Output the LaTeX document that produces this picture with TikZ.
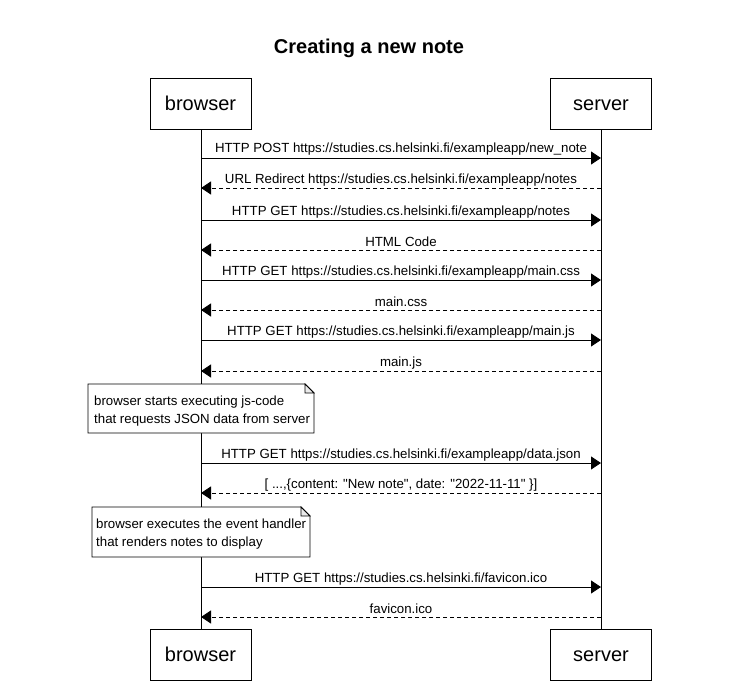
\documentclass[tikz,border=0pt]{standalone}
\usepackage{fontspec}
\setmainfont{Liberation Sans}
\usetikzlibrary{arrows.meta}
\begin{document}
\begin{tikzpicture}[x=1pt,y=-1pt,
  part/.style={draw=black,line width=1pt,fill=white,minimum width=101pt,minimum height=51pt,inner sep=0pt,text height=17.5pt,text depth=4.5pt,font=\fontsize{20}{24}\selectfont},
  life/.style={draw=black,line width=0.8pt},
  msg/.style={draw=black,line width=0.8pt,-{Triangle[length=10pt,width=13pt]}},
  ret/.style={msg,dash pattern=on 4pt off 3pt},
  lbl/.style={inner sep=0pt,font=\fontsize{13.25}{15}\selectfont},
  notebox/.style={draw=black,line width=0.8pt,fill=white},
  notetext/.style={inner sep=0pt,align=left,anchor=west,font=\fontsize{13.25}{18}\selectfont}]
\useasboundingbox (0,0) rectangle (752,693);
\node[font=\bfseries\fontsize{20}{24}\selectfont,inner sep=0pt] (title) at (369,48) {Creating a new note};
% lifelines
\coordinate (bt) at (201,129); \coordinate (bb) at (201,630);
\coordinate (st) at (601,129); \coordinate (sb) at (601,630);
\draw[life] (bt) -- (bb);
\draw[life] (st) -- (sb);
\node[part] (b1) at (200.5,103.5) {browser};
\node[part] (s1) at (601,103.5) {server};
\node[part] (b2) at (200.5,655) {browser};
\node[part] (s2) at (601,655) {server};
% messages
\foreach \i/\y in {1/158,2/188,3/220,4/250,5/280,6/310,7/340,8/371,9/463,10/493,11/587,12/617}{
  \coordinate (bm\i) at (201,\y);
  \coordinate (sm\i) at (601,\y);
}
\draw[msg] (bm1) -- (sm1);
\node[lbl] (l1) at (401,149) {HTTP POST https://studies.cs.helsinki.fi/exampleapp/new\_note};
\draw[ret] (sm2) -- (bm2);
\node[lbl] (l2) at (401,180) {URL Redirect https://studies.cs.helsinki.fi/exampleapp/notes};
\draw[msg] (bm3) -- (sm3);
\node[lbl] (l3) at (401,212) {HTTP GET https://studies.cs.helsinki.fi/exampleapp/notes};
\draw[ret] (sm4) -- (bm4);
\node[lbl] (l4) at (401,242) {HTML Code};
\draw[msg] (bm5) -- (sm5);
\node[lbl] (l5) at (401,272) {HTTP GET https://studies.cs.helsinki.fi/exampleapp/main.css};
\draw[ret] (sm6) -- (bm6);
\node[lbl] (l6) at (401,302) {main.css};
\draw[msg] (bm7) -- (sm7);
\node[lbl] (l7) at (401,332) {HTTP GET https://studies.cs.helsinki.fi/exampleapp/main.js};
\draw[ret] (sm8) -- (bm8);
\node[lbl] (l8) at (401,363) {main.js};
% note 1
\draw[notebox] (88,384) -- (305,384) -- (314,393) -- (314,433) -- (88,433) -- cycle;
\draw[line width=0.8pt,fill=black!8] (305,384) -- (305,393) -- (314,393) -- cycle;
\node[notetext] (n1) at (94,411.5) {browser starts executing js-code\\that requests JSON data from server};
\draw[msg] (bm9) -- (sm9);
\node[lbl] (l9) at (401,455) {HTTP GET https://studies.cs.helsinki.fi/exampleapp/data.json};
\draw[ret] (sm10) -- (bm10);
\node[lbl] (l10) at (401,485) {[ ...,\{content: \textquotedbl New note\textquotedbl, date: \textquotedbl 2022-11-11\textquotedbl\ \}]};
% note 2
\draw[notebox] (92,507) -- (301,507) -- (310,516) -- (310,557) -- (92,557) -- cycle;
\draw[line width=0.8pt,fill=black!8] (301,507) -- (301,516) -- (310,516) -- cycle;
\node[notetext] (n2) at (96,534.5) {browser executes the event handler\\that renders notes to display};
\draw[msg] (bm11) -- (sm11);
\node[lbl] (l11) at (401,579) {HTTP GET https://studies.cs.helsinki.fi/favicon.ico};
\draw[ret] (sm12) -- (bm12);
\node[lbl] (l12) at (401,609) {favicon.ico};
\end{tikzpicture}
\end{document}
